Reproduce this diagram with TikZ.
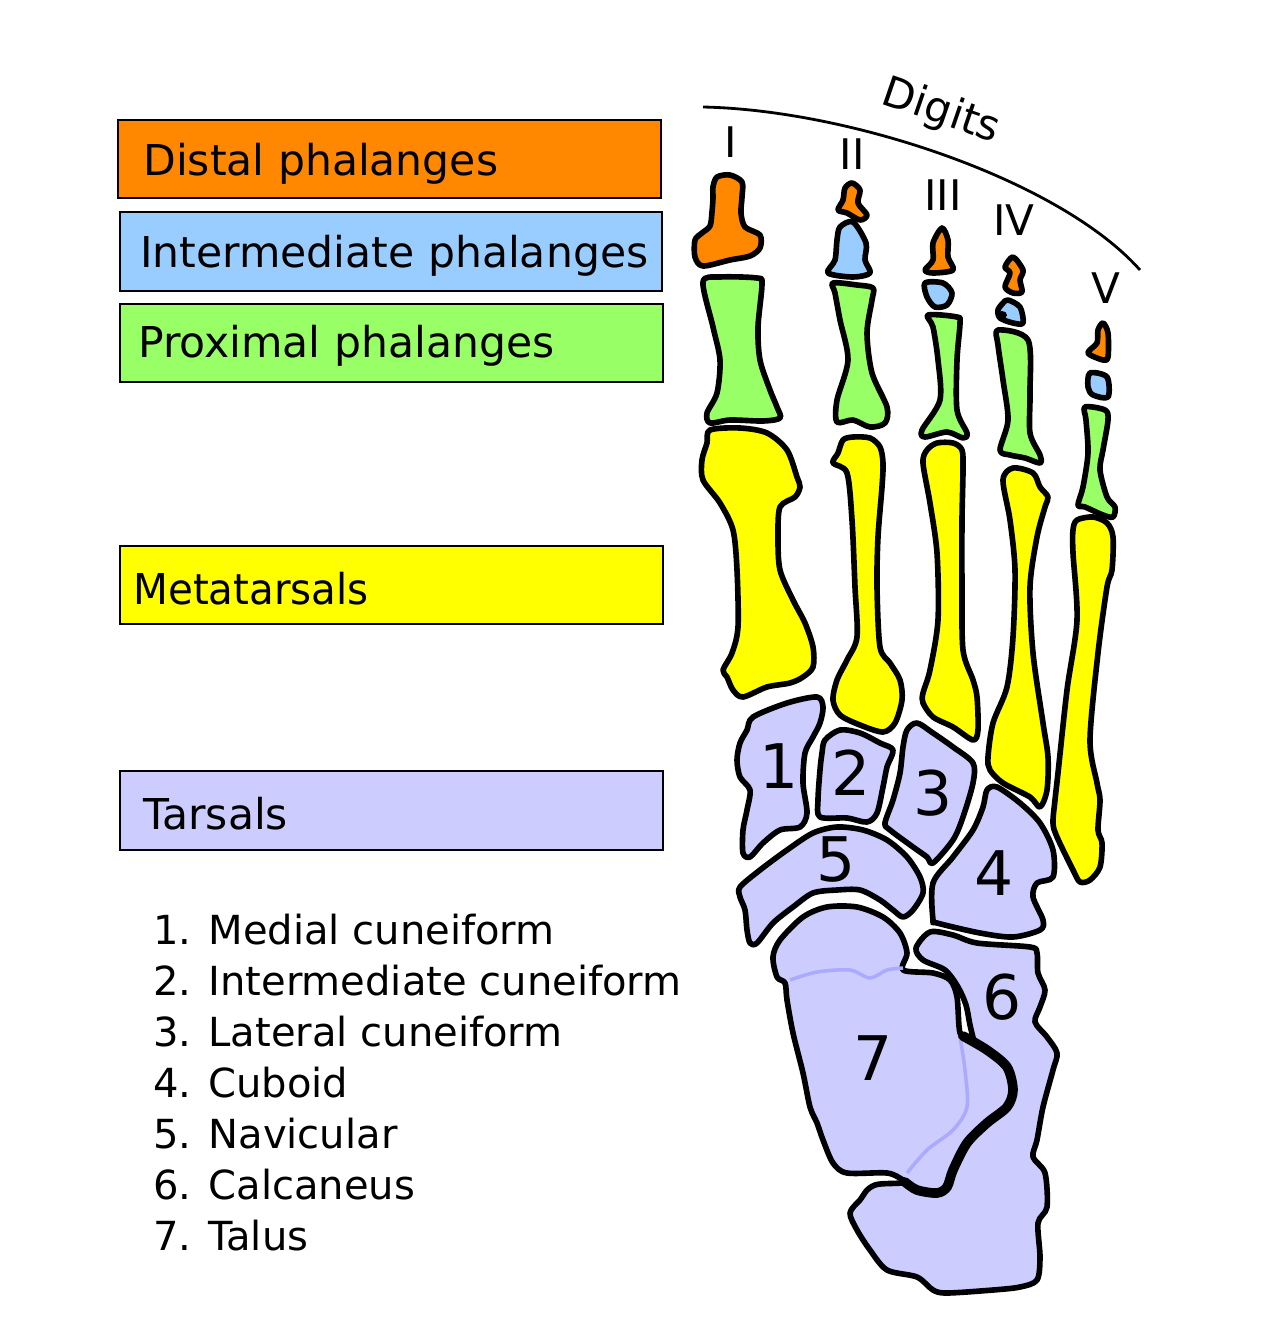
\documentclass[tikz,border=0pt]{standalone}
\usepackage{fontspec}
\setmainfont{DejaVu Sans}
\usepackage{tikz}
\usetikzlibrary{positioning}
\definecolor{distal}{RGB}{255, 136, 0}
\definecolor{intermed}{RGB}{153, 204, 255}
\definecolor{proximal}{RGB}{153, 255, 102}
\definecolor{metatarsal}{RGB}{255, 255, 0}
\definecolor{tarsal}{RGB}{204, 204, 255}
\definecolor{tarsalline}{RGB}{170, 170, 255}
\tikzset{
  bone/.style={draw=black, line width=3.2pt, line join=round},
  legendbox/.style={draw=black, line width=1.6pt},
  legendtext/.style={anchor=base west, inner sep=0pt, font=\fontsize{24.2pt}{30pt}\selectfont},
  listtext/.style={anchor=base west, inner sep=0pt, font=\fontsize{22.8pt}{28pt}\selectfont},
  digitlabel/.style={inner sep=0pt, font=\fontsize{24pt}{28pt}\selectfont},
  bonenum/.style={inner sep=0pt, font=\fontsize{35pt}{40pt}\selectfont}
}
\begin{document}
\begin{tikzpicture}[x=0.02cm, y=-0.02cm]
            % Frame to ensure alignment:
            \useasboundingbox (0,0) rectangle (1280,1336);
            % Legend
            \filldraw[legendbox, fill=distal]     (118,120) rectangle (661,198);
            \filldraw[legendbox, fill=intermed]   (120,212) rectangle (662,291);
            \filldraw[legendbox, fill=proximal]   (120,304) rectangle (663,382);
            \filldraw[legendbox, fill=metatarsal] (120,546) rectangle (663,624);
            \filldraw[legendbox, fill=tarsal]     (120,771) rectangle (663,850);
            \node[legendtext] (ldistal)   at (143,175) {Distal phalanges};
            \node[legendtext] (linter)    at (140,267) {Intermediate phalanges};
            \node[legendtext] (lprox)     at (138,357) {Proximal phalanges};
            \node[legendtext, xscale=0.95] (lmeta) at (133,604) {Metatarsals};
            \node[legendtext] (ltarsal)   at (143,829) {Tarsals};
            \node[listtext] (n1) at (153,944)  {1. Medial cuneiform};
            \node[listtext] (n2) at (153,995)  {2. Intermediate cuneiform};
            \node[listtext] (n3) at (153,1046) {3. Lateral cuneiform};
            \node[listtext] (n4) at (153,1097) {4. Cuboid};
            \node[listtext] (n5) at (153,1148) {5. Navicular};
            \node[listtext] (n6) at (153,1199) {6. Calcaneus};
            \node[listtext] (n7) at (153,1250) {7. Talus};
            % Digits
            \draw[line width=1.6pt] (703,107) .. controls (850,110) and (1060,180) .. (1140,270);
            \node[digitlabel, rotate=-19] (digits) at (941,112) {Digits};
            \node[digitlabel] (dI)   at (731,142)  {I};
            \node[digitlabel] (dII)  at (852,154)  {II};
            \node[digitlabel] (dIII) at (943,195)  {III};
            \node[digitlabel] (dIV)  at (1014,220) {IV};
            \node[digitlabel] (dV)   at (1106,288) {V};
            % Distal phalanges
            \filldraw[bone, fill=distal] plot[smooth cycle, tension=0.5] coordinates {(717,177) (730,175) (742,182) (742,197) (741,213) (745,227) (760,235) (760,248) (750,256) (730,260) (703,266) (695,257) (695,240) (702,233) (710,226) (712,212) (713,198) (713,187)};
            \filldraw[bone, fill=distal] plot[smooth cycle, tension=0.5] coordinates {(852,183) (860,190) (858,203) (867,215) (860,220) (847,213) (838,210) (843,200) (845,188)};
            \filldraw[bone, fill=distal] plot[smooth cycle, tension=0.5] coordinates {(942,228) (948,240) (948,257) (953,270) (933,273) (925,270) (933,260) (933,243)};
            \filldraw[bone, fill=distal] plot[smooth cycle, tension=0.5] coordinates {(1013,257) (1023,270) (1020,280) (1022,292) (1013,293) (1005,287) (1010,273) (1005,267)};
            \filldraw[bone, fill=distal] plot[smooth cycle, tension=0.5] coordinates {(1103,323) (1108,333) (1108,357) (1103,360) (1088,353) (1097,343) (1098,330)};
            % Intermediate phalanges
            \filldraw[bone, fill=intermed] plot[smooth cycle, tension=0.5] coordinates {(840,227) (853,222) (866,243) (865,260) (870,273) (853,277) (828,273) (835,260) (837,240)};
            \filldraw[bone, fill=intermed] plot[smooth cycle, tension=0.5] coordinates {(925,283) (943,283) (952,293) (947,305) (935,307) (927,297)};
            \filldraw[bone, fill=intermed] plot[smooth cycle, tension=0.5] coordinates {(1008,300) (1020,307) (1023,323) (1013,323) (1000,318) (998,310) (1003,303)};
            \fill[black] (1002,315) ellipse (5 and 4);
            \filldraw[bone, fill=intermed] plot[smooth cycle, tension=0.5] coordinates {(1090,373) (1107,377) (1108,397) (1093,395) (1088,387)};
            % Proximal phalanges
            \filldraw[bone, fill=proximal] plot[smooth cycle, tension=0.5] coordinates {(720,277) (757,278) (762,284) (758,327) (760,360) (770,390) (777,407) (780,418) (763,421) (730,420) (710,423) (707,413) (717,393) (720,360) (713,327) (703,282)};
            \filldraw[bone, fill=proximal] plot[smooth cycle, tension=0.5] coordinates {(833,283) (857,285) (873,288) (872,300) (867,333) (872,373) (887,407) (885,423) (870,427) (853,420) (837,422) (837,400) (848,360) (840,320) (835,293)};
            \filldraw[bone, fill=proximal] plot[smooth cycle, tension=0.5] coordinates {(928,315) (957,317) (960,323) (957,360) (957,410) (967,433) (963,438) (947,432) (925,437) (922,430) (940,400) (938,360) (933,327)};
            \filldraw[bone, fill=proximal] plot[smooth cycle, tension=0.5] coordinates {(998,330) (1028,340) (1030,393) (1030,433) (1040,455) (1040,463) (1025,458) (1010,455) (1000,450) (1008,420) (1003,380) (998,345)};
            \filldraw[bone, fill=proximal] plot[smooth cycle, tension=0.5] coordinates {(1085,407) (1105,410) (1108,420) (1103,450) (1100,470) (1107,497) (1115,507) (1113,517) (1103,515) (1085,507) (1078,505) (1083,487) (1088,453) (1086,420)};
            % Metatarsals
            \filldraw[bone, fill=metatarsal] plot[smooth cycle, tension=0.5] coordinates {(710,430) (740,428) (767,433) (787,450) (797,477) (800,487) (795,497) (780,507) (778,537) (780,570) (793,600) (805,623) (813,647) (813,667) (803,677) (790,683) (767,687) (743,697) (733,690) (727,677) (723,670) (732,653) (738,627) (737,570) (733,530) (720,503) (703,480) (702,460) (707,443)};
            \filldraw[bone, fill=metatarsal] plot[smooth cycle, tension=0.5] coordinates {(843,440) (853,437) (870,438) (880,447) (883,463) (882,487) (878,537) (877,587) (880,647) (890,663) (900,680) (902,700) (895,723) (883,732) (860,725) (840,715) (833,700) (837,680) (847,660) (857,637) (855,587) (852,520) (847,473) (833,463) (838,453)};
            \filldraw[bone, fill=metatarsal] plot[smooth cycle, tension=0.5] coordinates {(937,443) (953,443) (962,450) (963,470) (962,520) (962,587) (963,650) (973,680) (977,697) (978,730) (973,740) (953,727) (933,717) (923,703) (923,693) (930,670) (938,620) (937,553) (930,503) (923,463) (927,450)};
            \filldraw[bone, fill=metatarsal] plot[smooth cycle, tension=0.5] coordinates {(1013,468) (1033,473) (1040,487) (1048,497) (1045,507) (1037,537) (1030,587) (1033,653) (1043,723) (1048,757) (1047,790) (1040,807) (1030,797) (1003,783) (990,770) (988,757) (993,723) (1007,687) (1013,637) (1015,570) (1010,520) (1003,480)};
            \filldraw[bone, fill=metatarsal] plot[smooth cycle, tension=0.5] coordinates {(1077,520) (1093,517) (1107,523) (1113,537) (1112,570) (1107,587) (1098,653) (1090,740) (1097,783) (1100,800) (1098,830) (1102,843) (1100,867) (1090,880) (1080,882) (1073,870) (1057,837) (1053,823) (1055,800) (1058,773) (1067,690) (1077,620) (1073,553) (1073,530)};
            % Tarsals
            \filldraw[bone, fill=tarsal] plot[smooth cycle, tension=0.5] coordinates {(753,717) (787,703) (817,697) (823,707) (820,723) (813,737) (805,753) (803,783) (807,813) (800,827) (780,830) (763,843) (750,857) (743,853) (743,830) (747,810) (750,790) (740,777) (737,760) (740,743) (747,730)};
            \filldraw[bone, fill=tarsal] plot[smooth cycle, tension=0.5] coordinates {(840,730) (860,733) (880,743) (893,750) (887,767) (883,787) (877,813) (867,822) (847,818) (820,817) (818,800) (820,770) (822,753) (825,740)};
            \filldraw[bone, fill=tarsal] plot[smooth cycle, tension=0.5] coordinates {(917,723) (933,733) (953,747) (973,763) (973,783) (963,817) (953,840) (933,863) (927,857) (913,847) (890,830) (885,823) (893,800) (900,773) (903,747) (907,730)};
            \filldraw[bone, fill=tarsal] plot[smooth cycle, tension=0.5] coordinates {(997,787) (1020,803) (1040,823) (1053,850) (1053,877) (1037,883) (1033,897) (1043,920) (1040,930) (1013,937) (980,933) (937,923) (933,920) (933,883) (953,857) (973,830) (983,807) (987,790)};
            \filldraw[bone, fill=tarsal] plot[smooth cycle, tension=0.5] coordinates {(740,887) (760,870) (787,850) (813,833) (837,827) (863,830) (887,840) (907,857) (920,877) (923,893) (913,910) (903,917) (893,910) (880,900) (860,890) (837,890) (813,893) (793,907) (773,923) (757,943) (750,943) (747,930) (745,910) (740,897)};
            % Calcaneus and talus
            \filldraw[bone, fill=tarsal] plot[smooth cycle, tension=0.5] coordinates {(930,932) (953,935) (977,943) (1030,947) (1037,953) (1038,973) (1045,990) (1040,1007) (1035,1022) (1047,1037) (1057,1053) (1053,1070) (1043,1107) (1037,1140) (1033,1157) (1045,1173) (1047,1207) (1038,1223) (1040,1257) (1037,1280) (1020,1287) (993,1290) (947,1293) (933,1290) (917,1277) (887,1270) (870,1250) (857,1230) (850,1213) (860,1200) (875,1185) (930,1175) (990,1100) (975,1045) (970,1025) (966,1005) (958,987) (945,970) (923,960) (916,948)};
            \filldraw[bone, fill=tarsal] plot[smooth cycle, tension=0.5] coordinates {(780,940) (803,917) (827,907) (857,907) (883,917) (900,933) (907,953) (903,970) (933,973) (950,980) (957,997) (960,1033) (970,1040) (987,1050) (1007,1067) (1013,1090) (1007,1107) (987,1123) (967,1143) (953,1170) (947,1187) (937,1193) (917,1190) (903,1180) (887,1173) (847,1173) (833,1163) (823,1140) (817,1123) (810,1107) (803,1073) (793,1033) (787,1000) (785,983) (777,977) (773,957)};
            \draw[tarsalline, line width=2pt] plot[smooth, tension=0.5] coordinates {(790,980) (817,972) (850,970) (870,978) (887,970) (903,968)};
            \draw[tarsalline, line width=2pt] plot[smooth, tension=0.5] coordinates {(960,1037) (965,1070) (967,1107) (953,1130) (927,1150) (907,1173)};
            \draw[line width=5.5pt, line cap=round] plot[smooth, tension=0.5] coordinates {(963,1036) (987,1050) (1007,1067) (1013,1090) (1007,1107) (987,1123) (967,1143) (953,1170) (947,1187) (937,1193) (917,1190) (905,1182)};
            % Tarsal numbers
            \node[bonenum] (t1) at (779,766)  {1};
            \node[bonenum] (t2) at (851,773)  {2};
            \node[bonenum] (t3) at (933,793)  {3};
            \node[bonenum] (t4) at (994,873)  {4};
            \node[bonenum] (t5) at (836,860)  {5};
            \node[bonenum] (t6) at (1002,997) {6};
            \node[bonenum] (t7) at (873,1058) {7};
\end{tikzpicture}
\end{document}
